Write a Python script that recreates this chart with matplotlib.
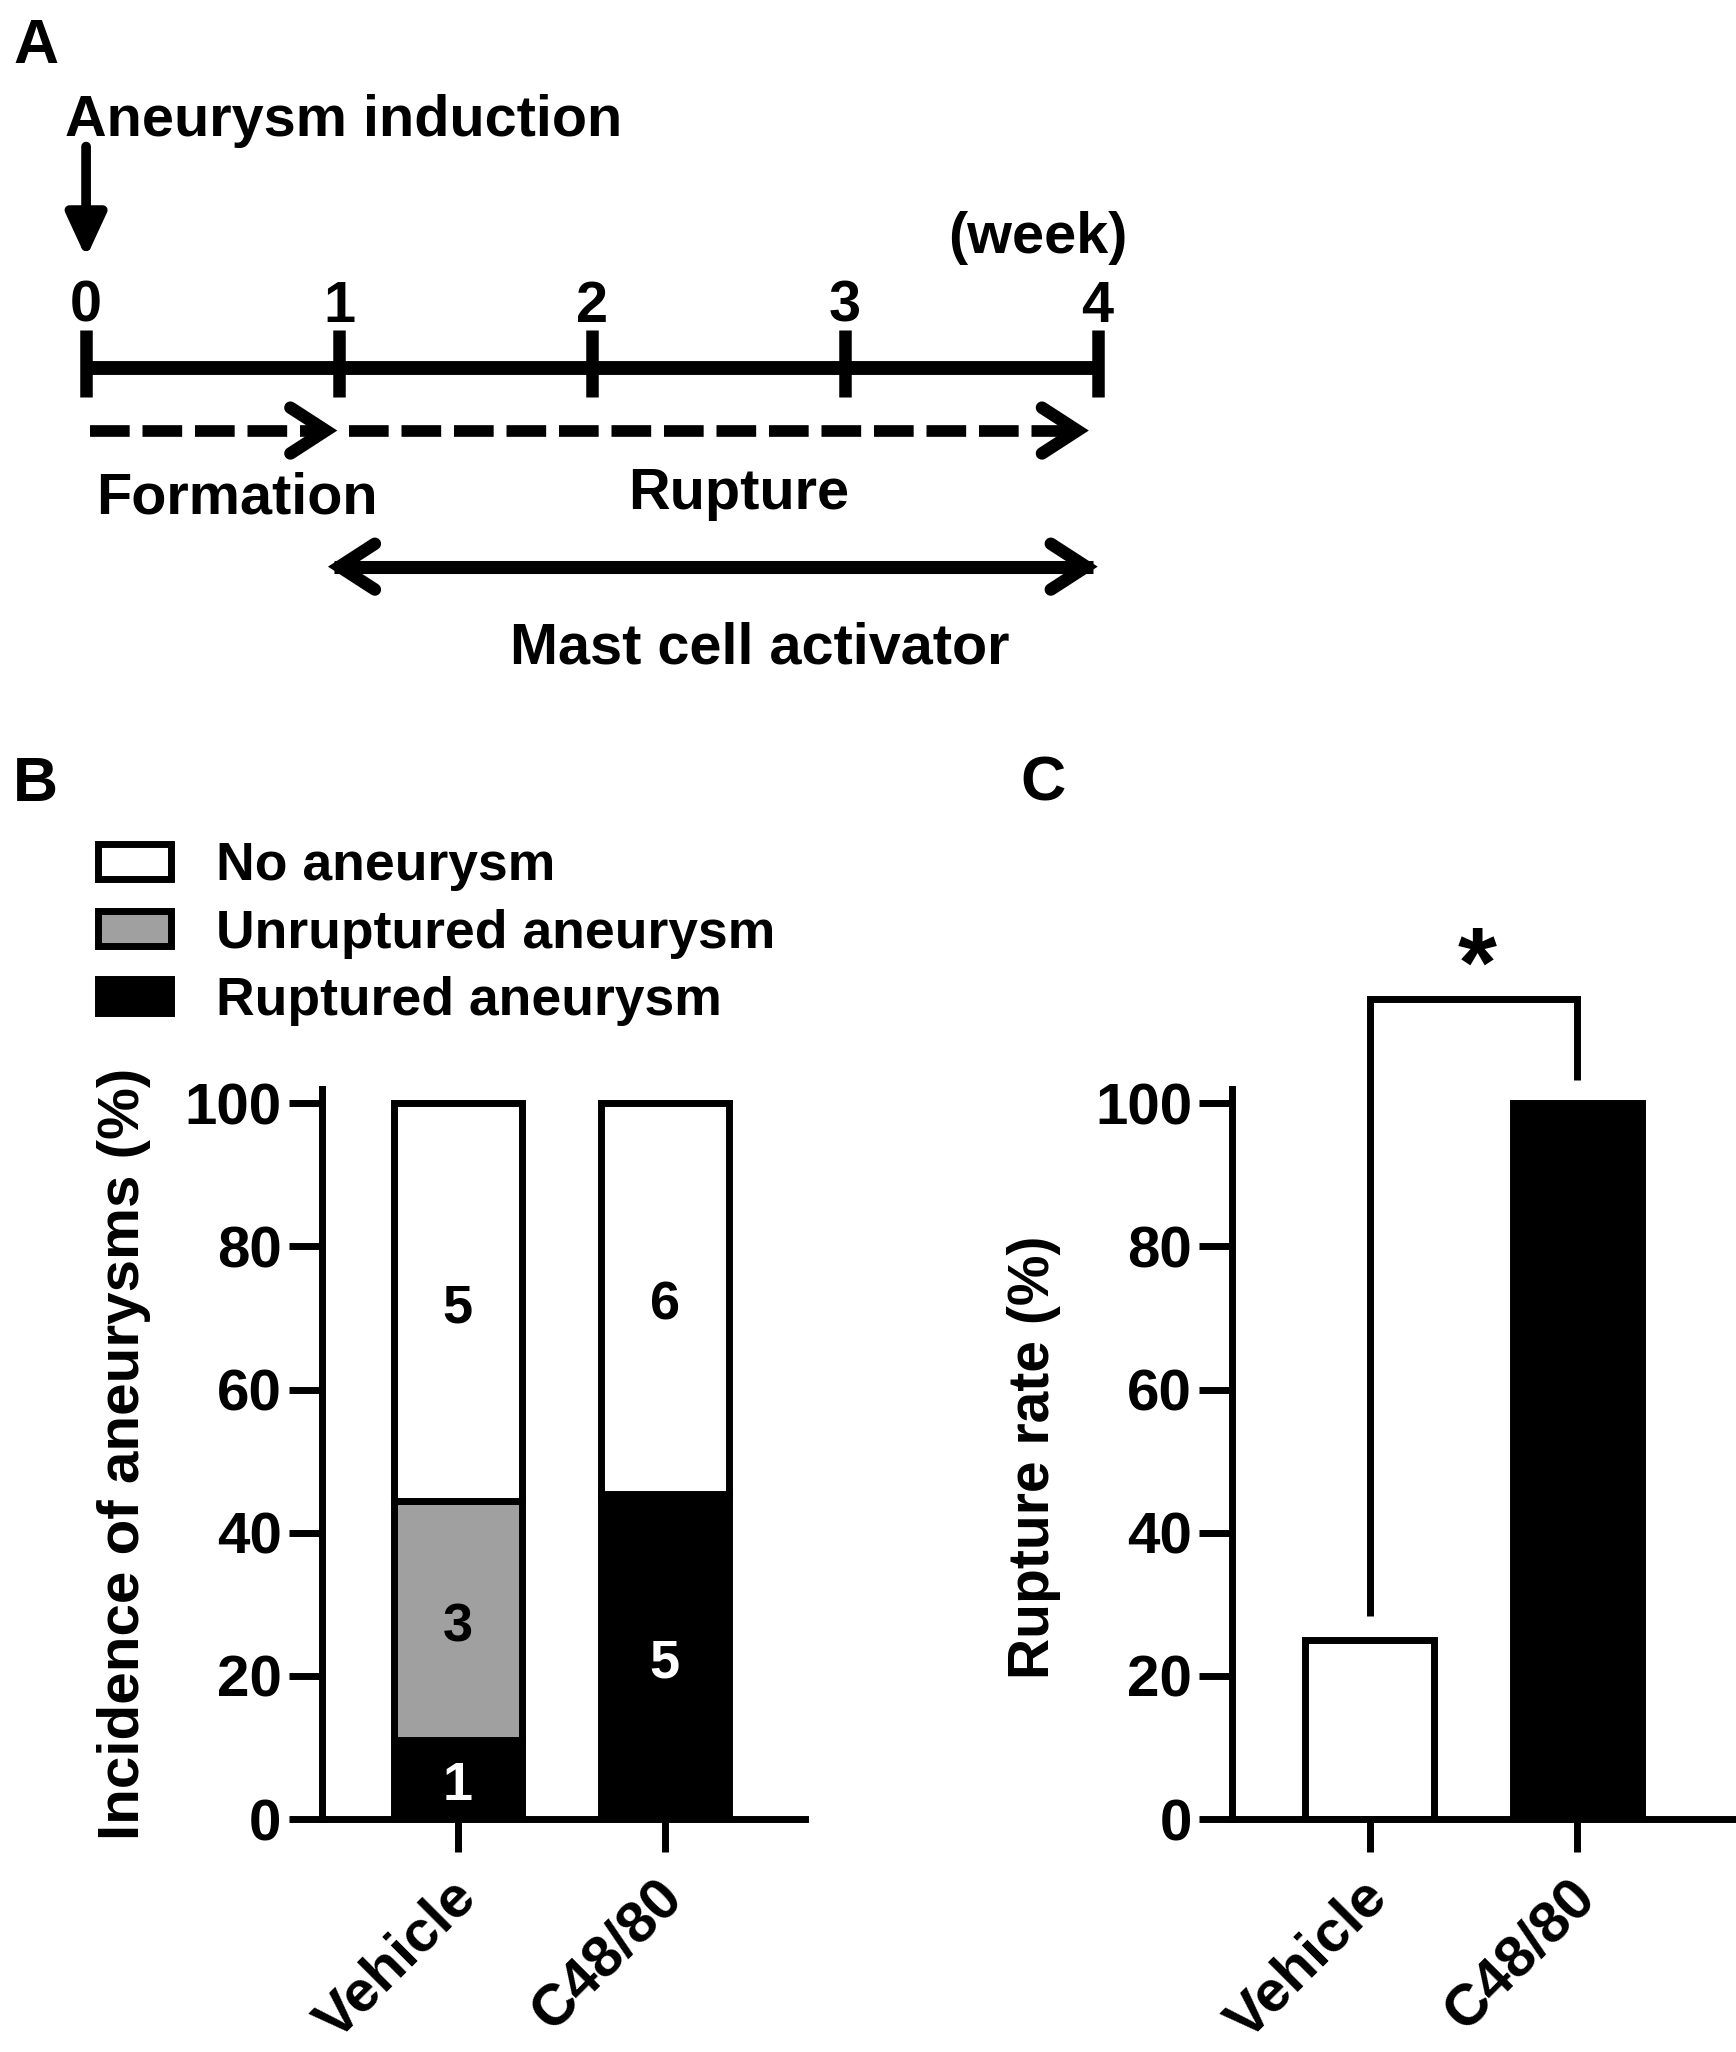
import numpy as np
import matplotlib.pyplot as plt
from matplotlib.patches import Patch
from matplotlib.transforms import ScaledTranslation

plt.rcParams['font.family'] = ['Liberation Sans', 'DejaVu Sans']
plt.rcParams['font.weight'] = 'bold'
plt.rcParams['axes.labelweight'] = 'bold'

# --- data ---
groups = ['Vehicle', 'C48/80']
ruptured = [1, 5]
unruptured = [3, 0]
no_aneurysm = [5, 6]
rupture_rate = [25, 100]
yticks = [0, 20, 40, 60, 80, 100]

weeks = [0, 1, 2, 3, 4]
formation = [0, 1]
rupture = [1, 4]
activator = [1, 4]

GRAY = '#a0a0a0'
W, H = 1327, 1568   # layout grid


def fx(x):
    return x / W


def fy(y):
    return 1 - y / H


fig = plt.figure(figsize=(17.36, 20.52), dpi=100)

# ---------------- panel A : timeline schematic ----------------
axA = fig.add_axes([0, 0, 1, 1])
x0, pxw = 65.8, 193.3           # week 0 position, pixels per week
axA.set_xlim(-x0 / pxw, (W - x0) / pxw)
axA.set_ylim(H, 0)
axA.axis('off')
fs_a = 41.5


def chevron(ax, tip, y, d, depth=0.14, half=17.5, lw=9):
    t = tip - d * 0.045
    ax.plot([t - d * depth, t, t - d * depth], [y - half, y, y + half], color='k', lw=lw,
            solid_capstyle='round', solid_joinstyle='miter')


# axis of weeks
axA.plot([weeks[0], weeks[-1]], [281, 281], color='k', lw=10, solid_capstyle='butt')
for w in weeks:
    axA.plot([w, w], [252, 303], color='k', lw=9, solid_capstyle='butt')
    axA.text(w, 246, str(w), ha='center', va='baseline', fontsize=fs_a)
axA.text((862 - x0) / pxw, 182, '(week)', ha='right', va='center', fontsize=fs_a)

# induction arrow
axA.text(-16 / pxw, 104, 'Aneurysm induction', ha='left', va='baseline', fontsize=fs_a)
axA.annotate('', xy=(0, 197), xytext=(0, 112),
             arrowprops=dict(arrowstyle='-|>,head_width=0.6,head_length=1.3', lw=7, color='k',
                             shrinkA=0, shrinkB=0, mutation_scale=20))

# formation / rupture dashed arrows
dash = (0, (3.4, 1.1))
axA.plot([formation[0] + 0.017, formation[1] - 0.05], [329, 329], color='k', lw=8.4,
         linestyle=dash, dash_capstyle='butt')
chevron(axA, formation[1] - 0.007, 329, 1)
axA.plot([rupture[0] + 0.04, rupture[1] - 0.08], [329, 329], color='k', lw=8.4,
         linestyle=dash, dash_capstyle='butt')
chevron(axA, rupture[1] - 0.035, 329, 1)
axA.text(0.596, 392, 'Formation', ha='center', va='baseline', fontsize=fs_a)
axA.text(2.58, 389, 'Rupture', ha='center', va='baseline', fontsize=fs_a)

# mast cell activator double arrow
axA.plot([activator[0] - 0.02, activator[1] - 0.02], [433, 433], color='k', lw=9.4,
         solid_capstyle='butt')
chevron(axA, activator[0] - 0.043, 433, -1)
chevron(axA, activator[1], 433, 1)
axA.text(2.665, 507, 'Mast cell activator', ha='center', va='baseline', fontsize=fs_a)

# panel letters
for letter, xs, ys in [('A', 10, 48), ('B', 10, 612), ('C', 780, 612)]:
    fig.text(fx(xs), fy(ys), letter, ha='left', va='baseline', fontsize=45)

# ---------------- panel B : stacked incidence ----------------
axB = fig.add_axes([fx(246), fy(1390), (615 - 246) / W, (1390 - 832) / H])
axC = fig.add_axes([fx(942), fy(1390), (1325 - 942) / W, (1390 - 832) / H])

x = np.arange(len(groups))
r = np.array(ruptured, float)
u = np.array(unruptured, float)
n = np.array(no_aneurysm, float)
tot = r + u + n
pr, pu, pn = 100 * r / tot, 100 * u / tot, 100 * n / tot

bw = 0.62
kw = dict(width=bw, edgecolor='k', linewidth=5)
axB.bar(x, pr, color='k', **kw)
axB.bar(x, pu, bottom=pr, color=GRAY, **kw)
axB.bar(x, pn, bottom=pr + pu, color='white', **kw)

down = ScaledTranslation(0, -5 / 72, fig.dpi_scale_trans)
for i in range(len(groups)):
    segs = [(r[i], 0, pr[i], 'white'), (u[i], pr[i], pu[i], 'k'), (n[i], pr[i] + pu[i], pn[i], 'k')]
    for cnt, bot, h, col in segs:
        if cnt > 0:
            axB.text(x[i], bot + h / 2, '%d' % cnt, ha='center', va='center', fontsize=39,
                     color=col, transform=axB.transData + down)

handles = [Patch(facecolor='white', edgecolor='k', linewidth=5),
           Patch(facecolor=GRAY, edgecolor='k', linewidth=5),
           Patch(facecolor='k', edgecolor='k', linewidth=5)]
axB.legend(handles, ['No aneurysm', 'Unruptured aneurysm', 'Ruptured aneurysm'],
           loc='upper left', bbox_to_anchor=(fx(75), fy(643)), bbox_transform=fig.transFigure,
           frameon=False, fontsize=38.5, handlelength=1.36, handleheight=0.62,
           handletextpad=0.85, labelspacing=0.32, borderpad=0, borderaxespad=0)
axB.set_xlim(-0.658, 1.677)
axB.text(-0.41, 0.5, 'Incidence of aneurysms (%)', transform=axB.transAxes, rotation=90,
         ha='center', va='center', fontsize=42)

# ---------------- panel C : rupture rate ----------------
axC.bar(x, rupture_rate, color=['white', 'k'], **kw)
axC.set_xlim(-0.66, 1.75)
axC.plot([0, 0, 1, 1], [28.3, 114.6, 114.6, 103.3], color='k', lw=5, clip_on=False,
         solid_joinstyle='miter', solid_capstyle='butt')
axC.text(0.52, 118.5, '*', ha='center', va='center', fontsize=72, clip_on=False)
axC.text(-0.395, 0.495, 'Rupture rate (%)', transform=axC.transAxes, rotation=90,
         ha='center', va='center', fontsize=41)

shift = ScaledTranslation(7 / 72, -12 / 72, fig.dpi_scale_trans)
for ax in (axB, axC):
    ax.set_facecolor('none')
    ax.spines[['top', 'right']].set_visible(False)
    ax.spines[['left', 'bottom']].set_linewidth(5)
    ax.set_ylim(0, 102)
    ax.set_yticks(yticks)
    ax.set_xticks(x)
    ax.set_xticklabels(groups, rotation=45, ha='right', va='center', rotation_mode='anchor')
    ax.tick_params(axis='both', length=24, width=5, labelsize=42, pad=5)
    ax.tick_params(axis='x', pad=14)
    for lab in ax.get_xticklabels():
        lab.set_transform(lab.get_transform() + shift)

fig.savefig('out.png', dpi=100, facecolor='white')
